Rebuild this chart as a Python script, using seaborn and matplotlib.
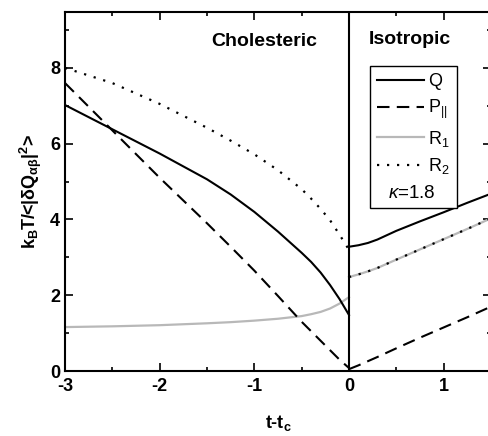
import numpy as np
import matplotlib
matplotlib.use("Agg")
import matplotlib.pyplot as plt
import pandas as pd
import seaborn as sns
from matplotlib.lines import Line2D
from matplotlib.ticker import MultipleLocator

# cholesteric side (t - tc < 0)
t_chol = [-3.0, -2.5, -2.0, -1.5, -1.25, -1.0, -0.75, -0.5, -0.4, -0.3, -0.2, -0.1, 0.0]
q_chol = [7.02, 6.38, 5.74, 5.06, 4.66, 4.2, 3.68, 3.12, 2.88, 2.6, 2.27, 1.9, 1.48]
p_chol = [7.6, 6.35, 5.1, 3.9, 3.28, 2.65, 1.98, 1.3, 1.05, 0.8, 0.55, 0.3, 0.08]
r1_chol = [1.16, 1.18, 1.21, 1.26, 1.29, 1.33, 1.38, 1.45, 1.5, 1.56, 1.65, 1.78, 1.95]
r2_chol = [8.0, 7.6, 7.05, 6.42, 6.08, 5.72, 5.3, 4.8, 4.55, 4.28, 3.98, 3.6, 3.2]

# isotropic side (t - tc > 0)
t_iso = [0.0, 0.1, 0.2, 0.3, 0.5, 0.75, 1.0, 1.25, 1.5]
q_iso = [3.28, 3.32, 3.38, 3.47, 3.7, 3.95, 4.19, 4.44, 4.68]
p_iso = [0.05, 0.15, 0.26, 0.37, 0.6, 0.88, 1.15, 1.42, 1.7]
r1_iso = [2.48, 2.55, 2.63, 2.72, 2.94, 3.21, 3.48, 3.75, 4.03]
r2_iso = r1_iso

styles = {
    "Q": dict(color="black", lw=1.5, ls="-"),
    "P": dict(color="black", lw=1.5, ls=(0, (6, 3.5))),
    "R1": dict(color="#b8b8b8", lw=1.6, ls="-"),
    "R2": dict(color="black", lw=1.6, ls=(0, (1, 3.5))),
}

plt.rcParams["font.family"] = ["Liberation Sans", "DejaVu Sans"]
plt.rcParams["axes.unicode_minus"] = False
plt.rcParams["mathtext.fontset"] = "custom"
plt.rcParams["mathtext.rm"] = "Liberation Sans"
plt.rcParams["mathtext.bf"] = "Liberation Sans:bold"
plt.rcParams["mathtext.it"] = "Liberation Sans:italic"

fig = plt.figure(figsize=(4.89, 4.36), dpi=100)
ax = fig.add_axes([0.133, 0.149, 0.871, 0.823])

for t, series in [(t_chol, [q_chol, p_chol, r1_chol, r2_chol]),
                  (t_iso, [q_iso, p_iso, r1_iso, r2_iso])]:
    for key, y in zip(["R1", "Q", "P", "R2"], [series[2], series[0], series[1], series[3]]):
        st = styles[key]
        sns.lineplot(x=t, y=y, ax=ax, color=st["color"], linewidth=st["lw"],
                     linestyle=st["ls"], legend=False, sort=False)

ax.axvline(0, color="black", lw=1.5)

ax.set_xlim(-3, 1.5)
ax.set_ylim(0, 9.47)
ax.xaxis.set_major_locator(MultipleLocator(1))
ax.xaxis.set_minor_locator(MultipleLocator(0.5))
ax.yaxis.set_major_locator(MultipleLocator(2))
ax.yaxis.set_minor_locator(MultipleLocator(1))
ax.tick_params(which="both", direction="in", top=True, right=True, width=1.2)
ax.tick_params(which="major", length=5.5, labelsize=13)
ax.tick_params(axis="x", which="major", pad=5)
ax.tick_params(which="minor", length=3)
for lab in ax.get_xticklabels() + ax.get_yticklabels():
    lab.set_fontweight("bold")
for s in ax.spines.values():
    s.set_linewidth(1.5)

ax.set_xlabel(r"t-t$_\mathbf{c}$", fontsize=13, fontweight="bold", labelpad=13)
ax.set_ylabel(r"k$_\mathbf{B}$T/<|$\mathbf{\delta}$Q$_{\mathbf{\alpha\beta}}$|$^\mathbf{2}$>",
              fontsize=13, fontweight="bold", labelpad=4)

ax.text(-0.89, 8.7, "Cholesteric", fontsize=14, fontweight="bold", ha="center", va="center")
ax.text(0.64, 8.76, "Isotropic", fontsize=14, fontweight="bold", ha="center", va="center")

handles = [Line2D([], [], color=styles[k]["color"], lw=styles[k]["lw"], ls=styles[k]["ls"])
           for k in ["Q", "P", "R1", "R2"]]
handles.append(Line2D([], [], color="none"))
labels = ["Q", r"P$_{||}$", r"R$_1$", r"R$_2$", " "]
leg = ax.legend(handles, labels, loc="upper left", bbox_to_anchor=(0.716, 0.85),
                borderaxespad=0, fontsize=13, frameon=True, fancybox=False,
                handlelength=2.6, handletextpad=0.2, labelspacing=0.42,
                borderpad=0.4, framealpha=1)
leg.get_frame().set_edgecolor("black")
leg.get_frame().set_linewidth(1.0)
ax.text(0.66, 4.68, r"$\kappa$=1.8", fontsize=13.5, ha="center", va="center", zorder=10)

fig.savefig("out.png", dpi=100)
